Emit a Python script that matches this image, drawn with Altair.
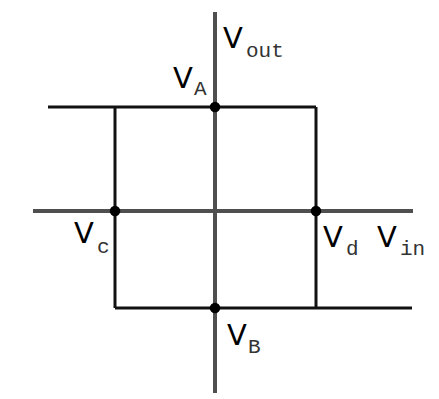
import altair as alt
import pandas as pd

# axis segments (data units)
axis_x1 = [-1.82, 0.0]
axis_x2 = [1.98, 0.0]
axis_y1 = [0.0, -1.82]
axis_y2 = [0.0, 1.99]

# hysteresis loop segments
loop_x1 = [-1.67, -1.00, -1.00, 1.01]
loop_x2 = [1.01, 1.97, -1.00, 1.01]
loop_y1 = [1.04, -0.97, -0.97, -0.97]
loop_y2 = [1.04, -0.97, 1.04, 1.04]

# marked points V_A, V_c, V_d, V_B
pt_x = [0.0, -1.00, 1.01, 0.0]
pt_y = [1.04, 0.0, 0.0, -0.97]

# labels: main "V" and subscript
v_x = [0.08, -0.42, -1.41, 1.08, 1.62, 0.12]
v_y = [1.63, 1.23, -0.32, -0.36, -0.36, -1.34]
sub_text = ["out", "A", "c", "d", "in", "B"]
sub_x = [0.31, -0.21, -1.18, 1.31, 1.85, 0.33]
sub_y = [1.54, 1.16, -0.42, -0.44, -0.44, -1.42]

xs = alt.Scale(domain=[-2.07, 2.16], nice=False, zero=False)
ys = alt.Scale(domain=[-1.80, 2.03], nice=False, zero=False)

axes_df = pd.DataFrame({"x": axis_x1, "x2": axis_x2, "y": axis_y1, "y2": axis_y2})
loop_df = pd.DataFrame({"x": loop_x1, "x2": loop_x2, "y": loop_y1, "y2": loop_y2})
pts_df = pd.DataFrame({"x": pt_x, "y": pt_y})
v_df = pd.DataFrame({"x": v_x, "y": v_y, "t": ["V"] * len(v_x)})
sub_df = pd.DataFrame({"x": sub_x, "y": sub_y, "t": sub_text})

enc = dict(
    x=alt.X("x:Q", scale=xs, axis=None),
    x2="x2:Q",
    y=alt.Y("y:Q", scale=ys, axis=None),
    y2="y2:Q",
)

axes = alt.Chart(axes_df).mark_rule(color="#4f4f4f", strokeWidth=4, clip=False).encode(**enc)
loop = alt.Chart(loop_df).mark_rule(color="#111111", strokeWidth=3, clip=False).encode(**enc)
pts = alt.Chart(pts_df).mark_point(filled=True, shape="circle", size=110, color="#000000", opacity=1).encode(
    x=alt.X("x:Q", scale=xs, axis=None), y=alt.Y("y:Q", scale=ys, axis=None)
)
vs = alt.Chart(v_df).mark_text(
    font="DejaVu Sans", fontSize=29, align="left", baseline="alphabetic", color="#000000"
).encode(x=alt.X("x:Q", scale=xs, axis=None), y=alt.Y("y:Q", scale=ys, axis=None), text="t:N")
subs = alt.Chart(sub_df).mark_text(
    font="Liberation Mono", fontSize=21, align="left", baseline="alphabetic", color="#333333"
).encode(x=alt.X("x:Q", scale=xs, axis=None), y=alt.Y("y:Q", scale=ys, axis=None), text="t:N")

chart = (
    alt.layer(axes, loop, pts, vs, subs)
    .properties(width=423, height=383, padding=0, background="white")
    .configure_view(stroke=None)
)

chart.save("out.html", embed_options={"renderer": "svg", "actions": False})
